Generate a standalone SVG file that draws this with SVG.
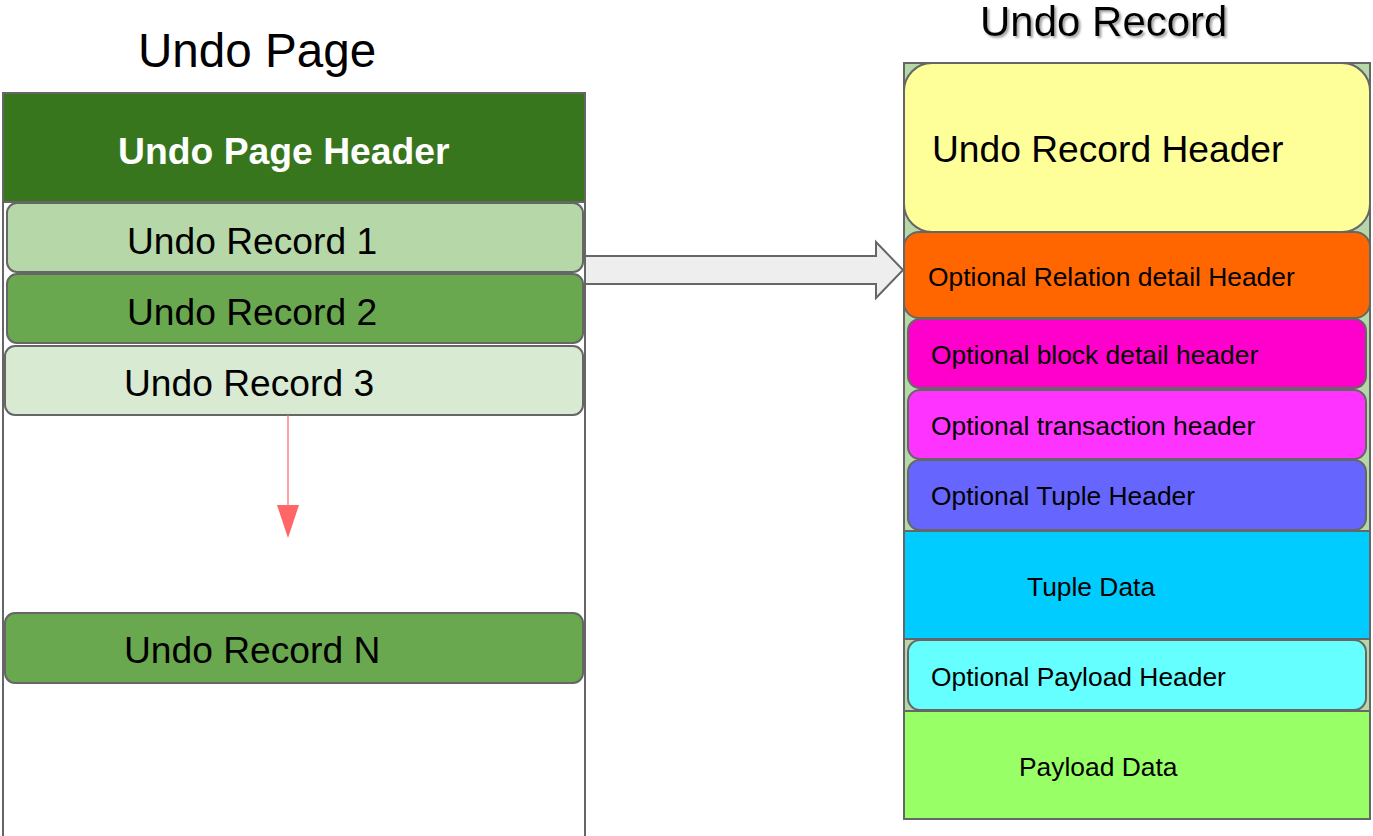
<svg xmlns="http://www.w3.org/2000/svg" width="1373" height="836" viewBox="0 0 1373 836">
<style>
text{font-family:"Liberation Sans",Arial,sans-serif;fill:#000}
.box{stroke:#666666;stroke-width:2}
.rec{font-size:37.2px}
.opt{font-size:26.4px}
.title{font-size:47.6px}
</style>
<defs>
<filter id="sh" x="-10%" y="-20%" width="130%" height="160%">
<feDropShadow dx="2" dy="2" stdDeviation="0.8" flood-color="#999999" flood-opacity="0.9"/>
</filter>
</defs>
<rect width="1373" height="836" fill="#ffffff"/>

<g id="undo-page">
<text class="title" x="138" y="67">Undo Page</text>
<rect class="box" x="3" y="93" width="582" height="760" fill="#ffffff"/>
</g>
<g id="undo-page-header">
<rect class="box" x="3" y="93" width="582" height="109" fill="#38761d"/>
<text x="118" y="164" style="font-size:37.3px;font-weight:bold;fill:#ffffff">Undo Page Header</text>
</g>
<g id="undo-record-1">
<rect class="box" x="7" y="203" width="576" height="69" rx="10" fill="#b6d7a8"/>
<text class="rec" x="127" y="254">Undo Record 1</text>
</g>
<g id="undo-record-2">
<rect class="box" x="7" y="274" width="576" height="69" rx="10" fill="#6aa84f"/>
<text class="rec" x="127" y="325">Undo Record 2</text>
</g>
<g id="undo-record-3">
<rect class="box" x="5" y="346" width="578" height="69" rx="10" fill="#d9ead3"/>
<text class="rec" x="124" y="396">Undo Record 3</text>
</g>
<g id="undo-record-n">
<rect class="box" x="5" y="613" width="578" height="70" rx="10" fill="#6aa84f"/>
<text class="rec" x="124" y="663">Undo Record N</text>
</g>

<g id="undo-record">
<text x="980" y="36" style="font-size:42px" filter="url(#sh)">Undo Record</text>
<rect class="box" x="904" y="63" width="466" height="756" fill="#b6d7a8"/>
</g>
<g id="undo-record-header">
<rect class="box" x="904" y="63" width="466" height="169" rx="28" fill="#ffff99"/>
<text class="rec" x="932" y="162">Undo Record Header</text>
</g>
<g id="relation-header">
<rect class="box" x="904" y="232" width="466" height="86" rx="15" fill="#ff6600"/>
<text class="opt" x="928" y="286">Optional Relation detail Header</text>
</g>
<g id="block-header">
<rect class="box" x="908" y="319" width="458" height="69" rx="12" fill="#ff00cc"/>
<text class="opt" x="931" y="364">Optional block detail header</text>
</g>
<g id="transaction-header">
<rect class="box" x="908" y="390" width="458" height="69" rx="12" fill="#ff33ff"/>
<text class="opt" x="931" y="435">Optional transaction header</text>
</g>
<g id="tuple-header">
<rect class="box" x="908" y="460" width="458" height="70" rx="12" fill="#6666ff"/>
<text class="opt" x="931" y="505">Optional Tuple Header</text>
</g>
<g id="tuple-data">
<rect class="box" x="904" y="531" width="466" height="108" fill="#00ccff"/>
<text class="opt" x="1027" y="596">Tuple Data</text>
</g>
<g id="payload-header">
<rect class="box" x="908" y="640" width="458" height="70" rx="12" fill="#66ffff"/>
<text class="opt" x="931" y="686">Optional Payload Header</text>
</g>
<g id="payload-data">
<rect class="box" x="904" y="711" width="466" height="108" fill="#99ff66"/>
<text class="opt" x="1019" y="776">Payload Data</text>
</g>

<g id="connectors">
<polygon points="585,256 876,256 876,242 903,270 876,298 876,284 585,284" fill="#eeeeee" stroke="#666666" stroke-width="2"/>
<line x1="288" y1="415" x2="288" y2="506" stroke="#ff6666" stroke-width="1.2"/>
<polygon points="277,505 299,505 288,538" fill="#ff6666"/>
</g>
</svg>
